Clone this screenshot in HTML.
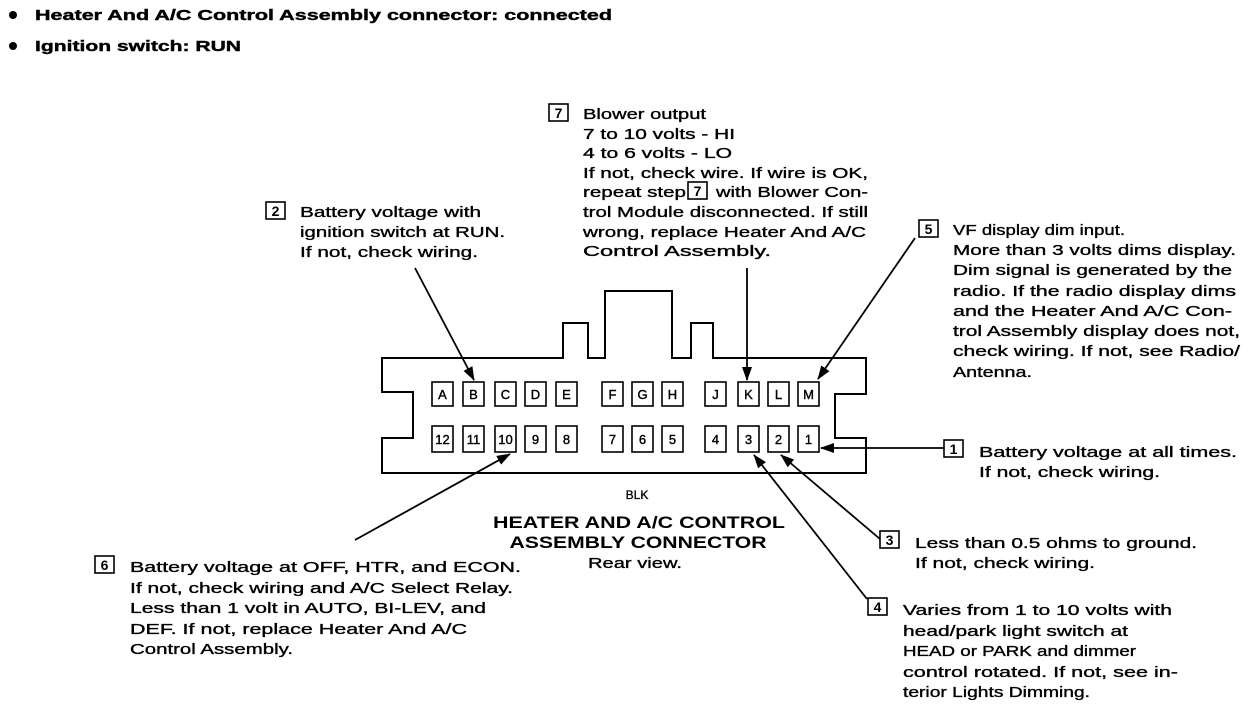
<!DOCTYPE html>
<html><head><meta charset="utf-8"><style>
html,body{margin:0;padding:0;background:#fff;}
svg{display:block;}
text{font-family:"Liberation Sans",Arial,sans-serif;fill:#000;}
.t{font-size:15px;stroke:#000;stroke-width:0.35;}
.h{font-size:15px;font-weight:bold;stroke:#000;stroke-width:0.4;}
.p{font-size:13px;text-anchor:middle;stroke:#000;stroke-width:0.4;}
.n{font-size:14px;text-anchor:middle;font-weight:bold;}
.ti{font-size:16.5px;font-weight:bold;text-anchor:middle;}
</style></head><body>
<svg width="1248" height="724" viewBox="0 0 1248 724" xmlns="http://www.w3.org/2000/svg">
<defs><marker id="a" markerWidth="14" markerHeight="10" refX="13" refY="5" orient="auto" markerUnits="userSpaceOnUse"><path d="M0,0 L14,5 L0,10 Z" fill="#000"/></marker></defs>
<circle cx="13" cy="15" r="4"/><circle cx="13" cy="46" r="4"/>
<text class="h" x="35" y="20" textLength="577" lengthAdjust="spacingAndGlyphs">Heater And A/C Control Assembly connector: connected</text>
<text class="h" x="35" y="51" textLength="206" lengthAdjust="spacingAndGlyphs">Ignition switch: RUN</text>

<path d="M382,358 L563,358 L563,323 L588,323 L588,358 L605,358 L605,291 L672,291 L672,358 L691,358 L691,323 L713,323 L713,358 L866,358 L866,394 L835,394 L835,438 L866,438 L866,473 L382,473 L382,438 L413,438 L413,392 L382,392 Z" fill="none" stroke="#000" stroke-width="2"/>
<g fill="#fff" stroke="#000" stroke-width="1.6">
<rect x="432" y="382" width="21" height="24"/><rect x="463" y="382" width="21" height="24"/><rect x="495" y="382" width="21" height="24"/><rect x="525" y="382" width="21" height="24"/><rect x="556" y="382" width="21" height="24"/>
<rect x="602" y="382" width="21" height="24"/><rect x="632" y="382" width="21" height="24"/><rect x="662" y="382" width="21" height="24"/>
<rect x="705" y="382" width="21" height="24"/><rect x="738" y="382" width="21" height="24"/><rect x="768" y="382" width="21" height="24"/><rect x="798" y="382" width="21" height="24"/>
<rect x="432" y="426" width="21" height="26"/><rect x="463" y="426" width="21" height="26"/><rect x="495" y="426" width="21" height="26"/><rect x="525" y="426" width="21" height="26"/><rect x="556" y="426" width="21" height="26"/>
<rect x="602" y="426" width="21" height="26"/><rect x="632" y="426" width="21" height="26"/><rect x="662" y="426" width="21" height="26"/>
<rect x="705" y="426" width="21" height="26"/><rect x="738" y="426" width="21" height="26"/><rect x="768" y="426" width="21" height="26"/><rect x="798" y="426" width="21" height="26"/>
</g>
<text class="p" x="442.5" y="399">A</text><text class="p" x="473.5" y="399">B</text><text class="p" x="505.5" y="399">C</text><text class="p" x="535.5" y="399">D</text><text class="p" x="566.5" y="399">E</text>
<text class="p" x="612.5" y="399">F</text><text class="p" x="642.5" y="399">G</text><text class="p" x="672.5" y="399">H</text>
<text class="p" x="715.5" y="399">J</text><text class="p" x="748.5" y="399">K</text><text class="p" x="778.5" y="399">L</text><text class="p" x="808.5" y="399">M</text>
<text class="p" x="442.5" y="444">12</text><text class="p" x="473.5" y="444">11</text><text class="p" x="505.5" y="444">10</text><text class="p" x="535.5" y="444">9</text><text class="p" x="566.5" y="444">8</text>
<text class="p" x="612.5" y="444">7</text><text class="p" x="642.5" y="444">6</text><text class="p" x="672.5" y="444">5</text>
<text class="p" x="715.5" y="444">4</text><text class="p" x="748.5" y="444">3</text><text class="p" x="778.5" y="444">2</text><text class="p" x="808.5" y="444">1</text>

<g stroke="#000" stroke-width="1.8" fill="none" marker-end="url(#a)">
<line x1="415" y1="268" x2="474" y2="380"/>
<line x1="747" y1="268" x2="747" y2="380"/>
<line x1="915" y1="238" x2="818" y2="379"/>
<line x1="944" y1="448" x2="821" y2="448"/>
<line x1="880" y1="539" x2="781" y2="455"/>
<line x1="867" y1="599" x2="754" y2="455"/>
<line x1="355" y1="540" x2="510" y2="454"/>
</g>

<g fill="none" stroke="#000" stroke-width="1.6">
<rect x="549" y="104" width="19" height="17"/>
<rect x="688" y="182" width="19" height="17"/>
<rect x="266" y="202" width="19" height="17"/>
<rect x="919" y="220" width="19" height="17"/>
<rect x="944" y="440" width="19" height="17"/>
<rect x="880" y="531" width="19" height="17"/>
<rect x="868" y="598" width="19" height="17"/>
<rect x="95" y="556" width="19" height="17"/>
</g>
<text class="n" x="558.5" y="118">7</text>
<text class="n" x="697.5" y="196">7</text>
<text class="n" x="275.5" y="216">2</text>
<text class="n" x="928.5" y="234">5</text>
<text class="n" x="953.5" y="454">1</text>
<text class="n" x="889.5" y="545">3</text>
<text class="n" x="877.5" y="612">4</text>
<text class="n" x="104.5" y="570">6</text>

<text class="t" x="583" y="119" textLength="123" lengthAdjust="spacingAndGlyphs">Blower output</text>
<text class="t" x="583" y="139" textLength="152" lengthAdjust="spacingAndGlyphs">7 to 10 volts - HI</text>
<text class="t" x="583" y="158" textLength="149" lengthAdjust="spacingAndGlyphs">4 to 6 volts - LO</text>
<text class="t" x="583" y="178" textLength="285" lengthAdjust="spacingAndGlyphs">If not, check wire. If wire is OK,</text>
<text class="t" x="583" y="197" textLength="103" lengthAdjust="spacingAndGlyphs">repeat step</text>
<text class="t" x="716" y="197" textLength="152" lengthAdjust="spacingAndGlyphs">with Blower Con-</text>
<text class="t" x="583" y="217" textLength="285" lengthAdjust="spacingAndGlyphs">trol Module disconnected. If still</text>
<text class="t" x="583" y="237" textLength="283" lengthAdjust="spacingAndGlyphs">wrong, replace Heater And A/C</text>
<text class="t" x="583" y="256" textLength="188" lengthAdjust="spacingAndGlyphs">Control Assembly.</text>

<text class="t" x="300" y="217" textLength="181" lengthAdjust="spacingAndGlyphs">Battery voltage with</text>
<text class="t" x="300" y="237" textLength="205" lengthAdjust="spacingAndGlyphs">ignition switch at RUN.</text>
<text class="t" x="300" y="257" textLength="178" lengthAdjust="spacingAndGlyphs">If not, check wiring.</text>

<text class="t" x="953" y="235" textLength="172" lengthAdjust="spacingAndGlyphs">VF display dim input.</text>
<text class="t" x="953" y="255" textLength="283" lengthAdjust="spacingAndGlyphs">More than 3 volts dims display.</text>
<text class="t" x="953" y="275" textLength="279" lengthAdjust="spacingAndGlyphs">Dim signal is generated by the</text>
<text class="t" x="953" y="296" textLength="283" lengthAdjust="spacingAndGlyphs">radio. If the radio display dims</text>
<text class="t" x="953" y="316" textLength="279" lengthAdjust="spacingAndGlyphs">and the Heater And A/C Con-</text>
<text class="t" x="953" y="336" textLength="287" lengthAdjust="spacingAndGlyphs">trol Assembly display does not,</text>
<text class="t" x="953" y="356" textLength="287" lengthAdjust="spacingAndGlyphs">check wiring. If not, see Radio/</text>
<text class="t" x="953" y="377" textLength="79" lengthAdjust="spacingAndGlyphs">Antenna.</text>

<text class="t" x="979" y="457" textLength="258" lengthAdjust="spacingAndGlyphs">Battery voltage at all times.</text>
<text class="t" x="979" y="477" textLength="181" lengthAdjust="spacingAndGlyphs">If not, check wiring.</text>

<text class="t" x="915" y="548" textLength="282" lengthAdjust="spacingAndGlyphs">Less than 0.5 ohms to ground.</text>
<text class="t" x="915" y="568" textLength="180" lengthAdjust="spacingAndGlyphs">If not, check wiring.</text>

<text class="t" x="903" y="615" textLength="269" lengthAdjust="spacingAndGlyphs">Varies from 1 to 10 volts with</text>
<text class="t" x="903" y="636" textLength="225" lengthAdjust="spacingAndGlyphs">head/park light switch at</text>
<text class="t" x="903" y="656" textLength="233" lengthAdjust="spacingAndGlyphs">HEAD or PARK and dimmer</text>
<text class="t" x="903" y="677" textLength="275" lengthAdjust="spacingAndGlyphs">control rotated. If not, see in-</text>
<text class="t" x="903" y="697" textLength="187" lengthAdjust="spacingAndGlyphs">terior Lights Dimming.</text>

<text class="t" x="130" y="572" textLength="391" lengthAdjust="spacingAndGlyphs">Battery voltage at OFF, HTR, and ECON.</text>
<text class="t" x="130" y="593" textLength="383" lengthAdjust="spacingAndGlyphs">If not, check wiring and A/C Select Relay.</text>
<text class="t" x="130" y="613" textLength="356" lengthAdjust="spacingAndGlyphs">Less than 1 volt in AUTO, BI-LEV, and</text>
<text class="t" x="130" y="634" textLength="337" lengthAdjust="spacingAndGlyphs">DEF. If not, replace Heater And A/C</text>
<text class="t" x="130" y="654" textLength="163" lengthAdjust="spacingAndGlyphs">Control Assembly.</text>

<text x="637" y="499" font-size="12" text-anchor="middle" stroke="#000" stroke-width="0.3">BLK</text>
<text class="ti" x="639" y="528" textLength="292" lengthAdjust="spacingAndGlyphs">HEATER AND A/C CONTROL</text>
<text class="ti" x="638" y="548" textLength="257" lengthAdjust="spacingAndGlyphs">ASSEMBLY CONNECTOR</text>
<text class="t" x="635" y="568" text-anchor="middle" textLength="94" lengthAdjust="spacingAndGlyphs">Rear view.</text>
</svg>
</body></html>
